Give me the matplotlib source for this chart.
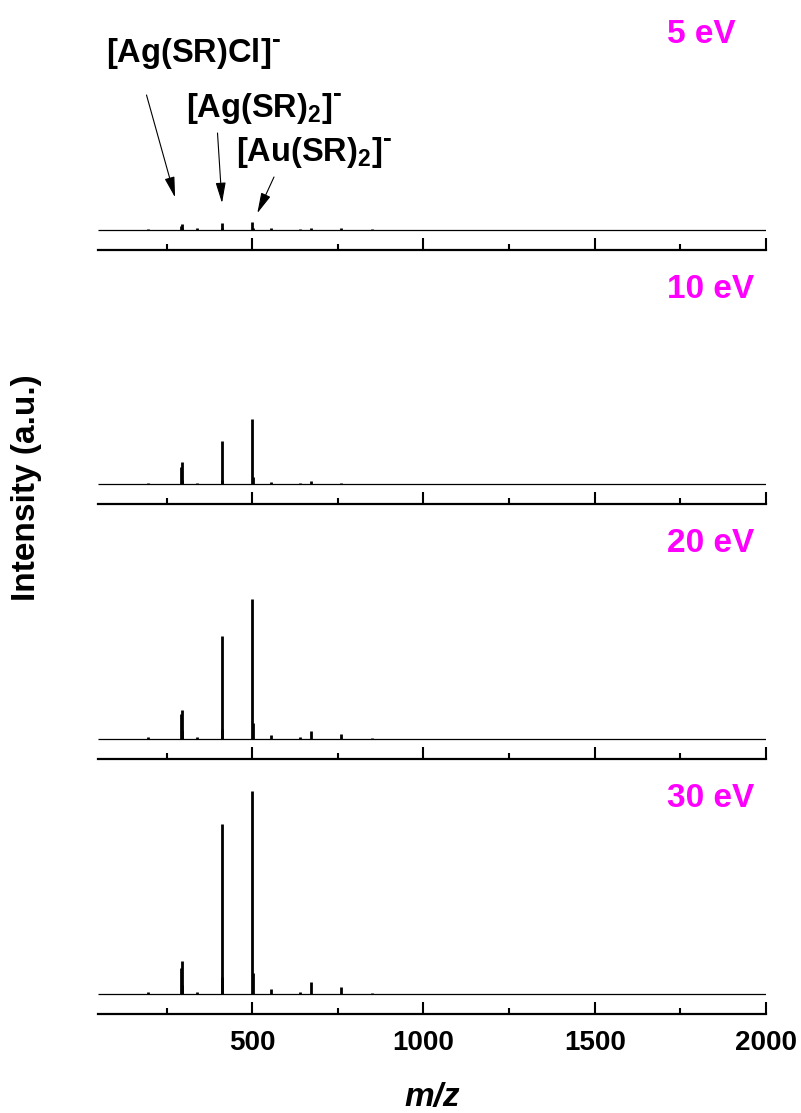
import matplotlib
matplotlib.use("Agg")
import matplotlib.pyplot as plt
from matplotlib.ticker import MultipleLocator

plt.rcParams["font.family"] = ["Liberation Sans", "DejaVu Sans"]
plt.rcParams["font.weight"] = "bold"
plt.rcParams["mathtext.fontset"] = "custom"
plt.rcParams["mathtext.rm"] = "Liberation Sans:bold"
plt.rcParams["mathtext.bf"] = "Liberation Sans:bold"
plt.rcParams["mathtext.it"] = "Liberation Sans:bold:italic"
plt.rcParams["mathtext.default"] = "rm"

# Peak list (m/z) and relative intensities at each collision energy
mz = [197, 292, 294, 296, 340, 411, 413, 501, 503, 554, 640, 672, 760, 850]
int_5ev = [0.3, 1.5, 2.5, 0.5, 0.5, 3.4, 0.5, 3.9, 0.5, 0.7, 0.3, 0.5, 0.5, 0.2]
int_10ev = [0.3, 8.2, 10.8, 2.0, 0.3, 21.2, 2.0, 32.0, 3.4, 1.0, 0.3, 1.5, 0.7, 0.2]
int_20ev = [0.5, 12.0, 14.1, 4.3, 0.5, 50.7, 4.9, 68.5, 7.4, 1.5, 0.5, 3.9, 2.0, 0.3]
int_30ev = [0.5, 12.8, 15.8, 4.4, 0.5, 83.3, 7.9, 100.0, 10.3, 2.0, 0.5, 5.9, 3.0, 0.3]

energies = ["5 eV", "10 eV", "20 eV", "30 eV"]
spectra = [int_5ev, int_10ev, int_20ev, int_30ev]

x_min, x_max = 50, 2000

W, H = 801, 1113
fig = plt.figure(figsize=(W / 100, H / 100), dpi=100)


# pixel-based layout helpers (origin at top-left)
def fx(px):
    return px / W


def fy(py):
    return 1 - py / H


spine_rows = [249.5, 504, 758.5, 1013.5]
ax_left, ax_right = 98, 766
panel_h = 240
px_per_unit = 2.03
y_lo = -20 / px_per_unit
y_hi = (panel_h - 20) / px_per_unit

axes = []
for i, (label, inten) in enumerate(zip(energies, spectra)):
    sp = spine_rows[i]
    ax = fig.add_axes([fx(ax_left), fy(sp), fx(ax_right - ax_left), panel_h / H])
    ax.set_xlim(x_min, x_max)
    ax.set_ylim(y_lo, y_hi)
    ax.patch.set_alpha(0)
    # baseline of the spectrum
    ax.plot([x_min, x_max], [0, 0], color="black", lw=0.9, solid_capstyle="butt")
    ax.vlines(mz, 0, inten, color="black", lw=2.0)
    for s in ["left", "right", "top"]:
        ax.spines[s].set_visible(False)
    ax.spines["bottom"].set_linewidth(1.6)
    ax.set_yticks([])
    ax.xaxis.set_major_locator(MultipleLocator(500))
    ax.xaxis.set_minor_locator(MultipleLocator(250))
    ax.tick_params(axis="x", which="major", direction="in", length=8.5, width=1.5,
                   labelsize=20, pad=12)
    ax.tick_params(axis="x", which="minor", direction="in", length=4.5, width=1.5)
    if i < 3:
        ax.tick_params(axis="x", labelbottom=False)
    else:
        for t in ax.get_xticklabels():
            t.set_fontweight("bold")
    # collision energy label
    fig.text(fx(667), fy(sp - 206.5), label, color="#FF00FF", fontsize=24,
             fontweight="bold", ha="left", va="baseline")
    axes.append(ax)

# species labels with arrows in the top panel
ax0 = axes[0]
species = [r"$[Ag(SR)Cl]$", r"$[Ag(SR)_2]$", r"$[Au(SR)_2]$"]
species_text_px = [(106, 62), (186, 116.5), (236, 161.5)]
arrow_tip = [(275, 15.8), (412, 13.0), (515, 8.0)]
arrow_tail_px = [(146.5, 95), (217.5, 133), (274, 177)]

for name, (tx, ty) in zip(species, species_text_px):
    main = fig.text(fx(tx), fy(ty), name, fontsize=23.5, ha="left", va="baseline")
    # anion charge as a raised hyphen after the closing bracket
    ax0.annotate("-", xy=(1.0, H - ty + 15.5), xycoords=(main, "figure pixels"),
                 xytext=(0.5, 0), textcoords="offset points",
                 fontsize=19, fontweight="bold", ha="left", va="baseline",
                 annotation_clip=False)

for (mx, my), (px, py) in zip(arrow_tip, arrow_tail_px):
    ax0.annotate("", xy=(mx, my), xycoords="data",
                 xytext=(fx(px), fy(py)), textcoords="figure fraction",
                 arrowprops=dict(arrowstyle="-|>,head_length=0.9,head_width=0.22",
                                 lw=0.8, color="black", shrinkA=0, shrinkB=0,
                                 mutation_scale=14),
                 annotation_clip=False)

fig.text(fx(27), fy(488), "Intensity (a.u.)", rotation=90, fontsize=24,
         fontweight="bold", ha="center", va="center")
fig.text(fx(432), fy(1106), "m/z", fontsize=24, fontweight="bold",
         fontstyle="italic", ha="center", va="baseline")

fig.savefig("out.png", dpi=100)
